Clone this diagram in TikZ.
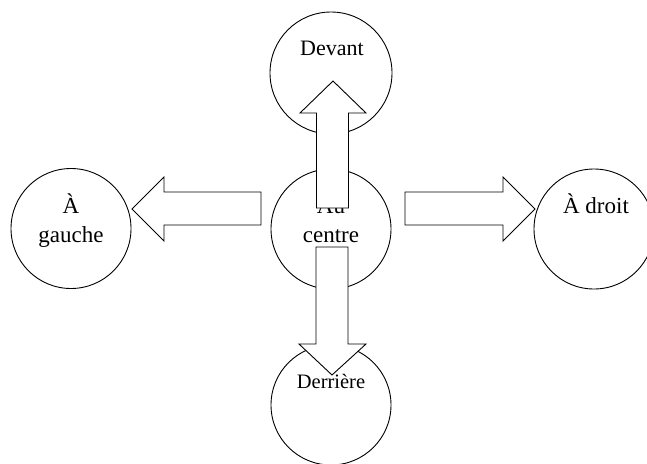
\documentclass[tikz,border=0pt]{standalone}
\usepackage{fontspec}
\setmainfont{Liberation Serif}
\begin{document}
\begin{tikzpicture}[x=1pt,y=-1pt,
  circ/.style={draw, line width=0.9pt, circle, minimum size=120pt, inner sep=0pt},
  barrow/.style={draw, fill=white, line width=0.9pt, line join=miter},
  lab/.style={font=\fontsize{23}{29}\selectfont, align=center, inner sep=0pt, anchor=base}]
\useasboundingbox (0,0) rectangle (647,463);
% circles
\node[circ, minimum size=122pt] (devant) at (331,73) {};
\node[circ] (centre) at (331,229) {};
\node[circ] (derriere) at (331,405) {};
\node[circ] (gauche) at (71,228.5) {};
\node[circ] (droit) at (594,229) {};
% labels
\node[lab, font=\fontsize{22}{29}\selectfont] (tdevant) at (332,55) {Devant};
\node[lab] (tau) at (331,213) {Au};
\node[lab] (tcentre) at (331,242) {centre};
\node[lab] (tagrave) at (71,213) {À};
\node[lab] (tgauche) at (71,242) {gauche};
\node[lab] (tdroit) at (596,213) {À droit};
\node[lab, font=\fontsize{20.5}{29}\selectfont] (tderriere) at (331,388) {Derrière};
% block arrows
\draw[barrow] (261,192) -- (164,192) -- (164,177) -- (132,209) -- (164,241) -- (164,225) -- (261,225) -- cycle;
\draw[barrow] (405,192) -- (503,192) -- (503,177) -- (535,209) -- (503,241) -- (503,225) -- (405,225) -- cycle;
\draw[barrow] (316.5,208) -- (316.5,113) -- (300,113) -- (333,81) -- (366,113) -- (348.5,113) -- (348.5,208) -- cycle;
\draw[barrow] (316,247) -- (316,344) -- (299,344) -- (332,375) -- (366,344) -- (348,344) -- (348,247) -- cycle;
\end{tikzpicture}
\end{document}
